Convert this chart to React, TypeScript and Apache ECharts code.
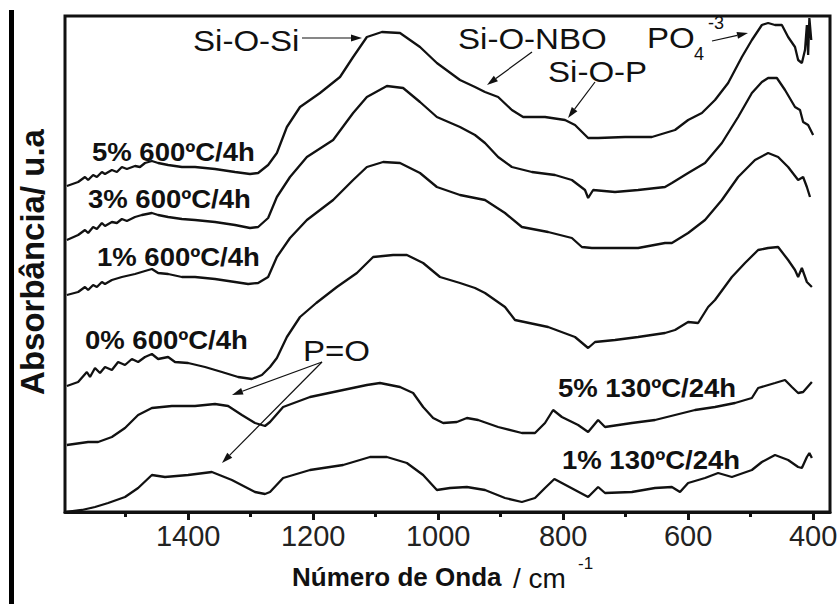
import React, { useEffect, useRef } from "react";
import * as echarts from "echarts";

// Wavenumber (cm-1) and absorbance (arbitrary, stacked offsets) for each spectrum
const waveA = [1594,1576,1565,1560,1552,1546,1538,1533,1522,1514,1506,1498,1485,1477,1469,1458,1448,1432,1410,1389,1357,1325,1301,1288,1272,1258,1242,1221,1189,1157,1136,1114,1090,1061,1029,1002,965,941,925,904,882,864,829,797,781,760,744,701,658,621,600,578,557,536,514,498,482,472,461,450,440,429,424,418,413,410,408,406,403];
const absA = [326,330,335,332,337,335,340,338,342,340,345,343,346,345,349,351,349,347,345,345,343,340,338,339,347,359,385,405,419,435,455,475,480,479,465,449,432,425,420,415,402,395,395,392,387,374,374,375,375,382,392,399,412,429,455,472,487,489,487,487,475,465,452,449,462,487,457,494,472];

const waveB = [1594,1576,1565,1560,1552,1546,1538,1533,1522,1514,1506,1498,1485,1474,1458,1448,1432,1410,1389,1357,1325,1301,1288,1272,1258,1237,1210,1168,1136,1114,1082,1056,1029,1002,965,941,925,904,882,850,813,786,765,760,752,717,680,637,626,600,573,546,520,498,482,472,458,445,429,421,416,408,400];
const absB = [272,277,282,279,285,283,289,286,290,289,293,291,295,297,299,297,295,293,292,290,287,284,285,294,315,335,355,372,399,415,426,424,410,395,385,377,369,355,345,340,337,332,322,314,322,320,322,325,329,339,349,369,395,419,430,434,434,422,405,402,390,387,377];

const waveC = [1594,1576,1565,1560,1552,1546,1538,1533,1522,1506,1485,1469,1458,1448,1432,1410,1389,1357,1325,1304,1288,1272,1258,1237,1210,1168,1136,1114,1088,1061,1029,1002,965,941,925,893,866,824,786,770,754,717,680,637,626,600,573,546,520,493,472,456,440,424,416,410,405];
const absC = [217,220,225,222,227,225,230,228,232,235,238,241,243,239,238,235,235,233,230,228,229,235,255,274,292,312,332,345,350,349,339,325,317,314,312,299,285,280,274,265,264,264,264,269,269,279,292,312,335,352,359,355,345,332,335,325,315];

const waveD = [1594,1576,1562,1557,1549,1541,1533,1522,1512,1501,1490,1480,1469,1458,1448,1432,1421,1400,1373,1346,1320,1298,1282,1269,1258,1242,1221,1195,1162,1130,1104,1072,1050,1024,997,965,941,925,893,877,824,781,760,749,717,680,637,621,600,584,568,557,530,509,488,472,456,440,429,424,418,410,402];
const absD = [126,130,140,135,144,139,145,142,150,147,153,150,155,158,153,155,150,149,145,140,135,133,137,145,154,175,195,209,225,239,255,257,257,249,235,229,224,219,205,192,185,175,164,170,172,175,179,182,190,189,205,212,235,249,262,264,265,252,242,235,244,230,225];

const waveE = [1594,1560,1544,1522,1501,1480,1458,1426,1389,1357,1336,1314,1293,1277,1269,1248,1205,1152,1114,1093,1061,1040,1024,1008,992,970,954,936,904,866,845,829,816,802,776,760,744,733,690,653,621,589,557,525,498,488,461,445,434,424,416,402];
const absE = [67,70,70,75,84,97,104,106,106,108,106,97,89,86,90,105,115,122,127,129,125,119,105,94,89,90,94,92,85,79,79,89,102,95,87,80,92,85,89,92,97,102,105,109,114,124,129,132,125,119,120,130];

const waveF = [1594,1570,1549,1528,1501,1480,1458,1437,1400,1362,1330,1293,1277,1269,1248,1205,1152,1109,1082,1050,1024,1002,981,954,925,893,866,845,829,814,802,781,760,744,733,690,653,626,613,600,573,552,530,498,482,461,440,424,418,410,406,402];
const absF = [0,2,5,9,15,24,37,35,37,40,32,20,18,20,34,42,47,55,55,49,37,22,24,25,22,14,10,14,24,33,29,22,15,25,19,20,24,25,20,29,34,39,35,42,50,57,52,45,44,55,59,54];

const seriesNames = ["5% 600ºC/4h", "3% 600ºC/4h", "1% 600ºC/4h", "0% 600ºC/4h", "5% 130ºC/24h", "1% 130ºC/24h"];
const majorTicks = [400, 600, 800, 1000, 1200, 1400];
const minorTicks = [500, 700, 900, 1100, 1300, 1500];

const FONT = '"Liberation Sans", Arial, Helvetica, sans-serif';

function pairs(w: number[], a: number[]) {
  return w.map((x, i) => [x, a[i]]);
}

function arrow(x1: number, y1: number, x2: number, y2: number, len = 11, half = 3.5) {
  const dx = x2 - x1, dy = y2 - y1;
  const d = Math.sqrt(dx * dx + dy * dy);
  const ux = dx / d, uy = dy / d;
  const bx = x2 - ux * len, by = y2 - uy * len;
  const px = -uy * half, py = ux * half;
  return [
    { type: "line", shape: { x1, y1, x2: bx, y2: by }, style: { stroke: "#111", lineWidth: 1.2 } },
    { type: "polygon", shape: { points: [[x2, y2], [bx + px, by + py], [bx - px, by - py]] }, style: { fill: "#111" } },
  ];
}

function label(text: string, x: number, y: number, size: number, weight: string, sx = 1) {
  return {
    type: "text",
    x,
    y,
    scaleX: sx,
    style: { text, fontSize: size, fontWeight: weight, fontFamily: FONT, fill: "#111", align: "left", verticalAlign: "middle" },
  };
}

export default function App() {
  const ref = useRef<HTMLDivElement>(null);
  useEffect(() => {
    document.body.style.margin = "0";
    const chart = echarts.init(ref.current!, undefined, { renderer: "svg" });
    const data = [pairs(waveA, absA), pairs(waveB, absB), pairs(waveC, absC), pairs(waveD, absD), pairs(waveE, absE), pairs(waveF, absF)];
    chart.setOption({
      animation: false,
      backgroundColor: "#fff",
      grid: {
        left: 65,
        right: 9,
        top: 16,
        bottom: 92,
        containLabel: false,
        outerBoundsMode: "none",
        show: true,
        borderColor: "#111",
        borderWidth: 3,
        backgroundColor: "transparent",
      },
      xAxis: [
        {
          type: "value",
          min: 373,
          max: 1597,
          inverse: true,
          axisLine: { show: true, lineStyle: { color: "#111", width: 3 } },
          axisTick: { show: true, inside: false, length: 8, lineStyle: { width: 3, color: "#111" }, customValues: majorTicks },
          axisLabel: {
            show: true,
            customValues: majorTicks,
            formatter: (v: number) => String(v),
            fontSize: 29,
            fontFamily: FONT,
            color: "#222",
            margin: 9,
          },
          splitLine: { show: false },
        },
        {
          type: "value",
          min: 373,
          max: 1597,
          inverse: true,
          position: "bottom",
          axisLine: { show: false },
          axisTick: { show: true, inside: false, length: 5, lineStyle: { width: 3, color: "#111" }, customValues: minorTicks },
          axisLabel: { show: false },
          splitLine: { show: false },
        },
      ],
      yAxis: {
        type: "value",
        min: 0,
        max: 496,
        axisLine: { show: false },
        axisTick: { show: false },
        axisLabel: { show: false },
        splitLine: { show: false },
      },
      series: data.map((d, i) => ({
        name: seriesNames[i],
        type: "line",
        data: d,
        showSymbol: false,
        smooth: false,
        lineStyle: { color: "#111", width: 2.3 },
        silent: true,
      })),
      graphic: [
        { type: "rect", shape: { x: 9, y: 10, width: 5, height: 594 }, style: { fill: "#000" } },
        {
          type: "text",
          x: 32,
          y: 262,
          rotation: Math.PI / 2,
          style: { text: "Absorbância/ u.a", fontSize: 33, fontWeight: "bold", fontFamily: FONT, fill: "#111", align: "center", verticalAlign: "middle" },
        },
        label("Número de Onda", 292, 577, 26, "bold"),
        label("/ cm", 513, 578, 28, "normal"),
        label("-1", 578, 563, 17, "normal"),
        label(seriesNames[0], 92, 152, 25, "bold", 1.1),
        label(seriesNames[1], 88, 199, 25, "bold", 1.1),
        label(seriesNames[2], 97, 257, 25, "bold", 1.1),
        label(seriesNames[3], 85, 340, 25, "bold", 1.1),
        label(seriesNames[4], 558, 388, 25, "bold", 1.1),
        label(seriesNames[5], 562, 460, 25, "bold", 1.1),
        label("Si-O-Si", 193, 41, 29, "normal", 1.14),
        label("Si-O-NBO", 458, 39, 29, "normal", 1.14),
        label("Si-O-P", 548, 72, 29, "normal", 1.14),
        label("PO", 647, 38, 29, "normal", 1.14),
        label("4", 694, 54, 18, "normal"),
        label("-3", 708, 23, 18, "normal"),
        label("P=O", 303, 351, 29, "normal", 1.14),
        ...arrow(302, 38, 362, 38),
        ...arrow(532, 52, 487, 85),
        ...arrow(595, 82, 568, 118),
        ...arrow(712, 41, 748, 33),
        ...arrow(322, 362, 232, 395),
        ...arrow(322, 362, 222, 463),
      ],
    });
    return () => chart.dispose();
  }, []);
  return <div ref={ref} style={{ width: 839, height: 604 }} />;
}
